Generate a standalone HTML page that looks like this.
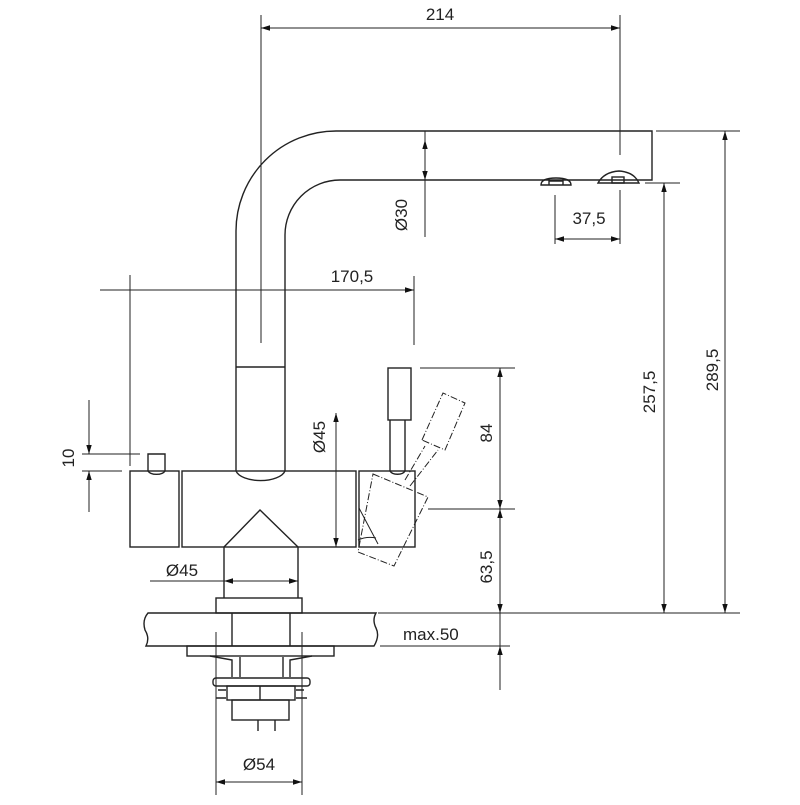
<!DOCTYPE html>
<html><head><style>html,body{margin:0;padding:0;background:#fff}</style></head>
<body>
<svg width="800" height="800" viewBox="0 0 800 800" xmlns="http://www.w3.org/2000/svg" font-family="Liberation Sans, sans-serif" font-size="17" fill="none" stroke="#222" stroke-width="1.4">
<defs>
<marker id="a" viewBox="0 0 10 10" refX="10" refY="5" markerWidth="9" markerHeight="9" orient="auto-start-reverse"><path d="M0,2 L10,5 L0,8 z" fill="#111" stroke="none"/></marker>
</defs>
<!-- spout -->
<path d="M236,471 V231 A100,100 0 0 1 336,131 H652 V180 H634"/>
<path d="M285,471 V235 A55,55 0 0 1 340,180 H634"/>
<line x1="236" y1="367" x2="285" y2="367"/>
<path d="M236,471 A25,12 0 0 0 285,471"/>
<!-- aerators -->
<path d="M541,185 Q541,178 556,178 Q571,178 571,185 Z"/><path d="M549,185 V179 M563,185 V179 M549,181 H563"/>
<path d="M598,183 Q604,172 619,171 Q634,172 639,183 Z"/><rect x="612" y="177" width="12" height="6"/>
<!-- body -->
<rect x="130" y="471" width="49" height="76"/>
<rect x="182" y="471" width="174" height="76"/>
<rect x="359" y="471" width="56" height="76"/>
<path d="M148,471 V454 H165 V471"/><path d="M148,471 A9,5 0 0 0 165,471"/>
<path d="M224,547 L260,510 L298,547"/>
<line x1="224" y1="547" x2="224" y2="598"/><line x1="298" y1="547" x2="298" y2="598"/>
<!-- lever -->
<rect x="388" y="368" width="23" height="52"/>
<path d="M390,420 V471 M405,420 V471"/>
<path d="M390,471 A8,5 0 0 0 405,471"/>
<g stroke-dasharray="7,2,1,2" stroke-width="1">
<path d="M422,440 L443,393 L465,403 L445,450 Z"/>
<path d="M405,480 L425,446 M410,486 L438,450"/>
<path d="M373,474 L428,497 L394,566 L358,552 Z"/>
</g>
<path d="M359,508 L378,544 M358,540 A30,30 0 0 1 376,538" stroke-width="1"/>
<!-- mount -->
<rect x="216" y="598" width="86" height="15"/>
<path d="M148,613 H376 Q372,620 376,628 Q380,636 374,646 H146 Q150,638 145,630 Q142,620 148,613 Z"/>
<line x1="232" y1="613" x2="232" y2="646"/><line x1="290" y1="613" x2="290" y2="646"/>
<rect x="187" y="646" width="147" height="10"/>
<path d="M210,656 L232,660 V677 M312,656 L290,660 V677 M240,657 V677 M283,657 V677"/>
<rect x="213" y="678" width="97" height="8" rx="3"/>
<rect x="227" y="686" width="68" height="14"/><line x1="260" y1="686" x2="260" y2="700"/>
<path d="M218,690 h8 M216,698 h10 M296,690 h8 M296,698 h11"/>
<rect x="232" y="700" width="57" height="20"/>
<path d="M258,720 V731 M275,720 V731"/>
<!-- dimensions -->
<g stroke-width="1">
<line x1="261" y1="15" x2="261" y2="343"/><line x1="620" y1="15" x2="620" y2="155"/>
<line x1="261" y1="28" x2="620" y2="28" marker-start="url(#a)" marker-end="url(#a)"/>
<line x1="425" y1="131" x2="425" y2="237"/>
<line x1="425" y1="140" x2="425" y2="180" marker-start="url(#a)" marker-end="url(#a)"/>
<line x1="555" y1="195" x2="555" y2="244"/><line x1="620" y1="190" x2="620" y2="244"/>
<line x1="555" y1="239" x2="620" y2="239" marker-start="url(#a)" marker-end="url(#a)"/>
<line x1="130" y1="275" x2="130" y2="466"/><line x1="414" y1="276" x2="414" y2="345"/>
<line x1="100" y1="290" x2="414" y2="290" marker-end="url(#a)"/>
<line x1="656" y1="131" x2="740" y2="131"/><line x1="645" y1="183" x2="680" y2="183"/>
<line x1="725" y1="131" x2="725" y2="613" marker-start="url(#a)" marker-end="url(#a)"/>
<line x1="664" y1="183" x2="664" y2="613" marker-start="url(#a)" marker-end="url(#a)"/>
<line x1="420" y1="368" x2="515" y2="368"/><line x1="428" y1="509" x2="515" y2="509"/>
<line x1="500" y1="368" x2="500" y2="509" marker-start="url(#a)" marker-end="url(#a)"/>
<line x1="500" y1="509" x2="500" y2="613" marker-start="url(#a)" marker-end="url(#a)"/>
<line x1="500" y1="613" x2="500" y2="690"/>
<line x1="378" y1="613" x2="740" y2="613"/><line x1="380" y1="646" x2="510" y2="646"/>
<line x1="500" y1="650" x2="500" y2="646" marker-end="url(#a)"/>
<line x1="336" y1="413" x2="336" y2="547" marker-start="url(#a)" marker-end="url(#a)"/>
<line x1="224" y1="581" x2="298" y2="581" marker-start="url(#a)" marker-end="url(#a)"/>
<line x1="150" y1="581" x2="224" y2="581"/>
<line x1="216" y1="632" x2="216" y2="795"/><line x1="302" y1="632" x2="302" y2="795"/>
<line x1="216" y1="782" x2="302" y2="782" marker-start="url(#a)" marker-end="url(#a)"/>
<line x1="89" y1="400" x2="89" y2="454" marker-end="url(#a)"/>
<line x1="89" y1="471" x2="89" y2="512" marker-start="url(#a)"/>
<line x1="82" y1="454" x2="140" y2="454"/><line x1="82" y1="471" x2="122" y2="471"/>
</g>
<g fill="#222" stroke="none">
<text x="440" y="20" text-anchor="middle">214</text>
<text x="589" y="224" text-anchor="middle">37,5</text>
<text x="352" y="282" text-anchor="middle">170,5</text>
<text x="182" y="576" text-anchor="middle">Ø45</text>
<text x="403" y="640">max.50</text>
<text x="259" y="770" text-anchor="middle">Ø54</text>
<text transform="translate(407,215) rotate(-90)" text-anchor="middle">Ø30</text>
<text transform="translate(325,437) rotate(-90)" text-anchor="middle">Ø45</text>
<text transform="translate(492,433) rotate(-90)" text-anchor="middle">84</text>
<text transform="translate(492,567) rotate(-90)" text-anchor="middle">63,5</text>
<text transform="translate(655,392) rotate(-90)" text-anchor="middle">257,5</text>
<text transform="translate(718,370) rotate(-90)" text-anchor="middle">289,5</text>
<text transform="translate(74,458) rotate(-90)" text-anchor="middle">10</text>
</g>
</svg>
</body></html>
